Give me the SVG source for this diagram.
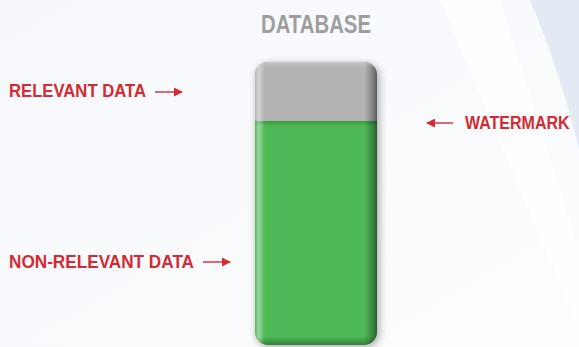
<svg xmlns="http://www.w3.org/2000/svg" width="579" height="347" viewBox="0 0 579 347">
<defs>
<style>
.lbl{font-family:"Liberation Sans",Arial,sans-serif;font-weight:bold;fill:#d42a33;font-size:19px}
.ttl{font-family:"Liberation Sans",Arial,sans-serif;font-weight:bold;fill:#9e9e9e;font-size:25px}
.arr{stroke:#d42a33;stroke-width:1.4;fill:none}
</style>
<linearGradient id="bg" x1="0" y1="0" x2="1" y2="1">
<stop offset="0" stop-color="#f6f8fc"/>
<stop offset="1" stop-color="#fdfdfe"/>
</linearGradient>
<linearGradient id="sideShade" x1="0" y1="0" x2="1" y2="0">
<stop offset="0" stop-color="#ffffff" stop-opacity="0.05"/>
<stop offset="0.03" stop-color="#ffffff" stop-opacity="0.45"/>
<stop offset="0.08" stop-color="#ffffff" stop-opacity="0"/>
<stop offset="0.9" stop-color="#000000" stop-opacity="0"/>
<stop offset="0.97" stop-color="#000000" stop-opacity="0.3"/>
<stop offset="1" stop-color="#000000" stop-opacity="0.5"/>
</linearGradient>
<linearGradient id="vertShade" x1="0" y1="0" x2="0" y2="1">
<stop offset="0" stop-color="#ffffff" stop-opacity="0.25"/>
<stop offset="0.02" stop-color="#ffffff" stop-opacity="0"/>
<stop offset="0.97" stop-color="#000000" stop-opacity="0"/>
<stop offset="1" stop-color="#000000" stop-opacity="0.3"/>
</linearGradient>
<linearGradient id="greenTop" x1="0" y1="0" x2="0" y2="1">
<stop offset="0" stop-color="#1e7a2a" stop-opacity="0.5"/>
<stop offset="1" stop-color="#1e7a2a" stop-opacity="0"/>
</linearGradient>
<clipPath id="barClip"><rect x="255" y="62" width="122" height="283" rx="13"/></clipPath>
<filter id="shadow" x="-20%" y="-10%" width="140%" height="120%">
<feGaussianBlur in="SourceAlpha" stdDeviation="4"/>
<feOffset dx="2" dy="2"/>
<feComponentTransfer><feFuncA type="linear" slope="0.35"/></feComponentTransfer>
<feMerge><feMergeNode/><feMergeNode in="SourceGraphic"/></feMerge>
</filter>
<marker id="ah" viewBox="0 0 10 10" refX="9" refY="5" markerWidth="9" markerHeight="9" markerUnits="userSpaceOnUse" orient="auto">
<path d="M0,0 L10,5 L0,10 Z" fill="#d42a33"/>
</marker>
</defs>
<rect width="579" height="347" fill="url(#bg)"/>
<path d="M440,0 L500,0 L579,250 L579,330 Z" fill="#ffffff" opacity="0.6"/>
<path d="M530,0 L579,0 L579,150 Q560,70 530,0 Z" fill="#e4eaf4"/>
<g id="title"><text class="ttl" x="316" y="33" text-anchor="middle" textLength="110" lengthAdjust="spacingAndGlyphs">DATABASE</text></g>
<g id="database">
<g filter="url(#shadow)">
<rect x="255" y="62" width="122" height="283" rx="13" fill="#4eb857"/>
</g>
<g clip-path="url(#barClip)">
<rect x="255" y="62" width="122" height="59" fill="#b3b3b3"/>
<rect x="255" y="121" width="122" height="5" fill="url(#greenTop)"/>
<rect x="255" y="62" width="122" height="283" fill="url(#sideShade)"/>
<rect x="255" y="62" width="122" height="283" fill="url(#vertShade)"/>
</g>
</g>
<g id="relevant"><text class="lbl" x="9" y="97" textLength="137" lengthAdjust="spacingAndGlyphs">RELEVANT DATA</text></g>
<g id="watermark"><text class="lbl" transform="translate(465,129) scale(1,1.19)" x="0" y="0" style="font-size:16px">WATERMARK</text></g>
<g id="nonrelevant"><text class="lbl" x="9" y="268" textLength="185" lengthAdjust="spacingAndGlyphs">NON-RELEVANT DATA</text></g>
<g id="connectors">
<line class="arr" x1="155" y1="92" x2="182" y2="92" marker-end="url(#ah)"/>
<line class="arr" x1="453" y1="123" x2="427" y2="123" marker-end="url(#ah)"/>
<line class="arr" x1="203" y1="262" x2="230" y2="262" marker-end="url(#ah)"/>
</g>
</svg>
